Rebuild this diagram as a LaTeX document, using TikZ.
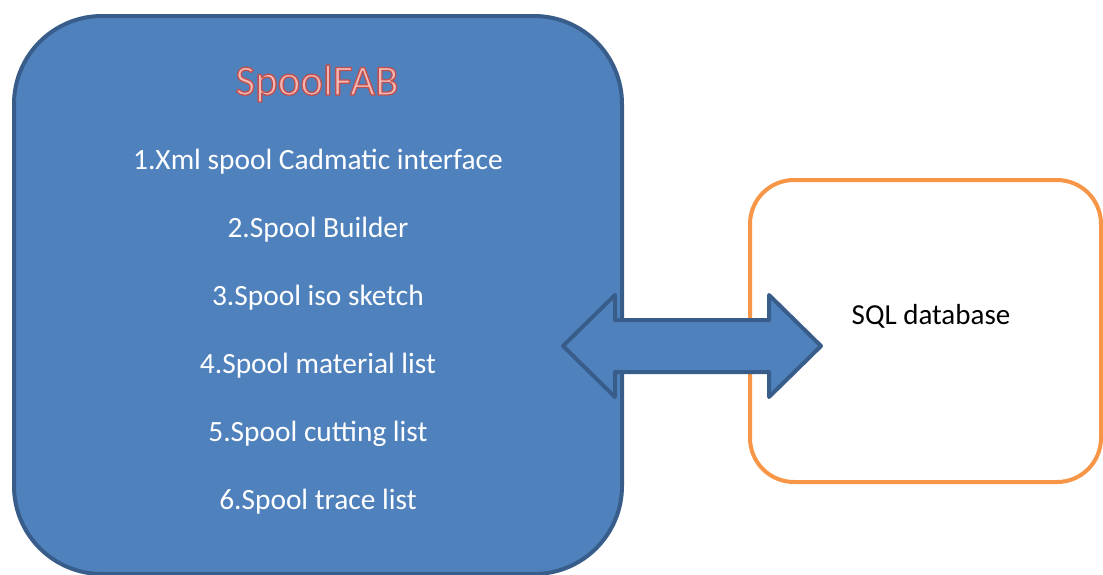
\documentclass[tikz,border=0pt]{standalone}
\usepackage{fontspec}
\setmainfont{Carlito}
\usetikzlibrary{calc}
\definecolor{boxblue}{HTML}{4F81BD}
\definecolor{edgeblue}{HTML}{385D8A}
\definecolor{boxorange}{HTML}{F79646}
\definecolor{titlered}{HTML}{C0504D}
\definecolor{titlepink}{HTML}{F2B6B4}
\newcommand{\outlinedtext}[1]{\special{pdf:literal direct 2 Tr 1.3 w 1 j 0.753 0.314 0.302 RG}#1\special{pdf:literal direct 0 Tr}}
\tikzset{
  mainbox/.style={draw=edgeblue, fill=boxblue, line width=4pt, rounded corners=88pt},
  dbbox/.style={draw=boxorange, fill=white, line width=4pt, rounded corners=44pt},
  item/.style={anchor=base, text=white, font=\fontsize{29.4}{31}\selectfont, inner sep=0pt},
  dblabel/.style={anchor=base, text=black, font=\fontsize{29}{31}\selectfont, inner sep=0pt},
  titlefont/.style={anchor=base, inner sep=0pt, font=\fontsize{43}{46}\selectfont},
  bigarrow/.style={draw=edgeblue, fill=boxblue, line width=4pt, line join=round}
}
\begin{document}
\begin{tikzpicture}[x=1pt,y=-1pt]
\useasboundingbox (0,0) rectangle (1103,574);
% main box
\draw[mainbox] (14,16) rectangle (622,574);
\coordinate (mainbox) at (318,295);
% database box
\draw[dbbox] (750,180) rectangle (1101,482);
\node[dblabel] (sql) at (931,324) {SQL database};
% title with outline
\node[titlefont, text=titlepink] (title) at (317,95) {\outlinedtext{SpoolFAB}};
% items
\node[item] (i1) at (318,169) {1.Xml spool Cadmatic interface};
\node[item] (i2) at (318,237) {2.Spool Builder};
\node[item] (i3) at (318,305) {3.Spool iso sketch};
\node[item] (i4) at (318,373) {4.Spool material list};
\node[item] (i5) at (318,441) {5.Spool cutting list};
\node[item] (i6) at (318,509) {6.Spool trace list};
% double arrow
\coordinate (ltip) at (563,346);
\coordinate (rtip) at (821,346);
\draw[bigarrow] (ltip) -- (615,295) -- (615,320) -- (769,320) -- (769,295) -- (rtip)
  -- (769,397) -- (769,372) -- (615,372) -- (615,397) -- cycle;
\end{tikzpicture}
\end{document}
